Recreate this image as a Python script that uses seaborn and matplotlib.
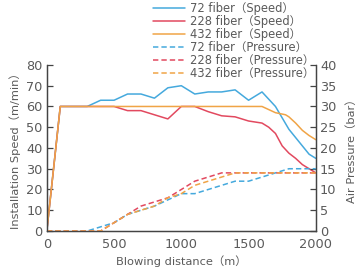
import numpy as np
import pandas as pd
import matplotlib
matplotlib.use("Agg")
import matplotlib.pyplot as plt
import seaborn as sns

# speed curves (m/min)
x_speed_72 = [0, 100, 200, 300, 400, 500, 600, 700, 800, 900, 1000, 1100, 1200, 1300, 1400, 1500, 1600, 1700, 1800, 1900, 1950, 2000]
speed_72 = [0, 60, 60, 60, 63, 63, 66, 66, 64, 69, 70, 66, 67, 67, 68, 63, 67, 60, 49, 41, 37, 35]

x_speed_228 = [0, 100, 200, 300, 400, 500, 600, 700, 800, 900, 1000, 1100, 1200, 1300, 1400, 1500, 1600, 1650, 1700, 1750, 1800, 1850, 1900, 1950, 2000]
speed_228 = [0, 60, 60, 60, 60, 60, 58, 58, 56, 54, 60, 60, 57.5, 55.5, 55, 53, 52, 50, 47, 41, 37.5, 35, 32, 30, 28]

x_speed_432 = [0, 100, 200, 300, 400, 500, 600, 700, 800, 900, 1000, 1100, 1200, 1300, 1400, 1500, 1600, 1700, 1775, 1800, 1850, 1900, 1950, 2000]
speed_432 = [0, 60, 60, 60, 60, 60, 60, 60, 60, 60, 60, 60, 60, 60, 60, 60, 60, 57, 56, 55, 52, 48.5, 46, 44]

# air pressure curves (bar)
x_press = [0, 100, 200, 300, 400, 500, 600, 700, 800, 900, 1000, 1100, 1200, 1300, 1400, 1500, 1600, 1700, 1800, 1900, 2000]
press_72 = [0, 0, 0, 0, 1, 2, 4, 5, 6, 7.5, 9, 9, 10, 11, 12, 12, 13, 14, 15, 15, 15]
press_228 = [0, 0, 0, 0, 0, 2, 4, 6, 7, 8, 10, 12, 13, 14, 14, 14, 14, 14, 14, 14, 14]
press_432 = [0, 0, 0, 0, 0, 2, 4, 5, 6, 8, 9, 11, 12, 13, 14, 14, 14, 14, 14, 14, 14]

labels = ["72 fiber（Speed）", "228 fiber（Speed）", "432 fiber（Speed）",
          "72 fiber（Pressure）", "228 fiber（Pressure）", "432 fiber（Pressure）"]
colors = ["#45a9dd", "#e2495f", "#f0a446"]

sns.set_style("white")
plt.rcParams['font.family'] = ['DejaVu Sans', 'Noto Sans CJK JP']
txt = "#5a5a5a"
spine = "#444444"

fig = plt.figure(figsize=(3.63, 2.8), dpi=100)
ax = fig.add_axes([0.129, 0.175, 0.741, 0.593])
ax2 = ax.twinx()

handles = []
for xs, ys, c, lab in [(x_speed_72, speed_72, colors[0], labels[0]),
                       (x_speed_228, speed_228, colors[1], labels[1]),
                       (x_speed_432, speed_432, colors[2], labels[2])]:
    sns.lineplot(x=xs, y=ys, ax=ax, color=c, lw=1.1, label=lab, legend=False)
    handles.append(ax.lines[-1])
for ys, c, lab in [(press_72, colors[0], labels[3]),
                   (press_228, colors[1], labels[4]),
                   (press_432, colors[2], labels[5])]:
    sns.lineplot(x=x_press, y=ys, ax=ax2, color=c, lw=1.1, label=lab, legend=False)
    ax2.lines[-1].set_dashes((3.5, 2))
    handles.append(ax2.lines[-1])

ax.set_xlim(0, 2000)
ax.set_ylim(0, 80)
ax2.set_ylim(0, 40)
ax.set_xticks([0, 500, 1000, 1500, 2000])
ax.set_yticks(range(0, 81, 10))
ax2.set_yticks(range(0, 41, 5))

for a in (ax, ax2):
    for s in a.spines.values():
        s.set_color(spine)
        s.set_linewidth(0.9)
    a.spines['top'].set_visible(False)
    a.tick_params(direction='in', length=4, width=0.9, color=spine,
                  labelsize=9.3, labelcolor=txt, pad=3)
    a.grid(False)
ax.tick_params(axis='x', pad=5)

ax.set_xlabel("Blowing distance（m）", fontsize=8.2, color=txt, labelpad=3)
ax.set_ylabel("Installation Speed（m/min）", fontsize=8.2, color=txt, labelpad=4)
ax2.set_ylabel("Air Pressure（bar）", fontsize=8.2, color=txt, labelpad=7)

fig.legend(handles=handles, labels=labels, loc='upper left',
           bbox_to_anchor=(0.41, 1.01), frameon=False, fontsize=8.3,
           labelcolor=txt, handlelength=2.7, handletextpad=0.5,
           labelspacing=0.0, borderaxespad=0)

fig.savefig("out.png", dpi=100)
